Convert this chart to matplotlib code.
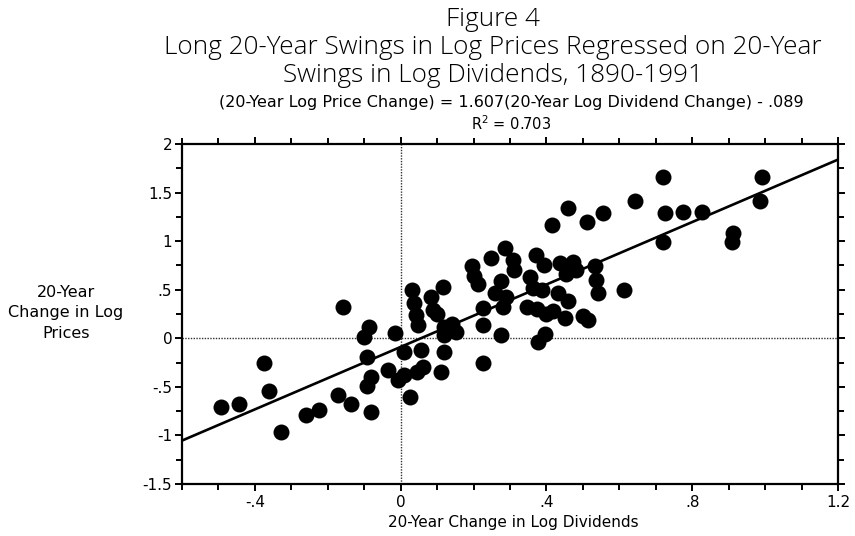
import matplotlib
matplotlib.use("Agg")
import matplotlib.pyplot as plt
import numpy as np

# ---- data ----
div_change = [
    -0.493, -0.444, -0.375, -0.362, -0.329, -0.260, -0.225, -0.173, -0.137, -0.159,
    -0.088, -0.101, -0.093, -0.082, -0.093, -0.082, -0.016, 0.008, -0.036, -0.008,
    0.008, 0.025, 0.055, 0.060, 0.044, 0.118, 0.110, 0.118, 0.225, 0.030,
    0.036, 0.041, 0.047, 0.082, 0.115, 0.088, 0.101, 0.118, 0.142, 0.151,
    0.195, 0.200, 0.211, 0.227, 0.227, 0.274, 0.274, 0.258, 0.290, 0.282,
    0.247, 0.285, 0.307, 0.312, 0.356, 0.364, 0.389, 0.370, 0.392, 0.438,
    0.474, 0.455, 0.482, 0.534, 0.537, 0.542, 0.614, 0.348, 0.375, 0.400,
    0.419, 0.452, 0.499, 0.515, 0.433, 0.460, 0.378, 0.395, 0.416, 0.460,
    0.512, 0.556, 0.644, 0.721, 0.726, 0.775, 0.827, 0.721, 0.912, 0.910,
    0.992, 0.986,
]
price_change = [
    -0.711, -0.680, -0.257, -0.546, -0.968, -0.793, -0.742, -0.587, -0.680, 0.319,
    0.113, 0.010, -0.196, -0.402, -0.494, -0.762, 0.051, -0.144, -0.330, -0.433,
    -0.381, -0.608, -0.124, -0.299, -0.350, -0.144, -0.350, 0.031, -0.257, 0.494,
    0.360, 0.237, 0.134, 0.422, 0.525, 0.288, 0.247, 0.113, 0.144, 0.062,
    0.742, 0.639, 0.556, 0.309, 0.134, 0.031, 0.587, 0.463, 0.422, 0.319,
    0.824, 0.927, 0.803, 0.700, 0.628, 0.515, 0.494, 0.855, 0.752, 0.772,
    0.783, 0.659, 0.700, 0.742, 0.597, 0.463, 0.494, 0.319, 0.299, 0.247,
    0.278, 0.206, 0.227, 0.185, 0.463, 0.381, -0.041, 0.041, 1.164, 1.339,
    1.195, 1.287, 1.411, 1.658, 1.287, 1.298, 1.298, 0.989, 1.081, 0.989,
    1.658, 1.411,
]
slope = 1.607
intercept = -0.089
x_ticks = [-0.4, 0.0, 0.4, 0.8, 1.2]
x_tick_labels = ["-.4", "0", ".4", ".8", "1.2"]
y_ticks = [-1.5, -1.0, -0.5, 0.0, 0.5, 1.0, 1.5, 2.0]
y_tick_labels = ["-1.5", "-1", "-.5", "0", ".5", "1", "1.5", "2"]
x_range = [-0.6, 1.2]
y_range = [-1.5, 2.0]

title_lines = ["Figure 4",
               "Long 20-Year Swings in Log Prices Regressed on 20-Year",
               "Swings in Log Dividends, 1890-1991"]
equation = "(20-Year Log Price Change) = 1.607(20-Year Log Dividend Change) - .089"
r2_text = r"R$^2$ = 0.703"
xlabel = "20-Year Change in Log Dividends"
ylabel = "20-Year\nChange in Log\nPrices"

# ---- figure ----
W, H = 855, 536
fig = plt.figure(figsize=(W / 100, H / 100), dpi=100)
ax = fig.add_axes([182 / W, 1 - 484 / H, (838 - 182) / W, (484 - 144) / H])

ax.set_xlim(*x_range)
ax.set_ylim(*y_range)

# zero reference lines (dotted)
ax.axhline(0, color="#333333", lw=1.0, ls=(0, (1, 1)), zorder=1)
ax.axvline(0, color="#333333", lw=1.0, ls=(0, (1, 1)), zorder=1)

ax.plot(div_change, price_change, "o", color="black", markersize=11.5,
        markeredgewidth=0, zorder=3)

xl = np.array(x_range)
ax.plot(xl, slope * xl + intercept, color="black", lw=1.9, zorder=4,
        solid_capstyle="butt")

for s in ax.spines.values():
    s.set_linewidth(1.6)
    s.set_color("black")

ax.set_xticks(x_ticks)
ax.set_xticklabels(x_tick_labels)
ax.set_yticks(y_ticks)
ax.set_yticklabels(y_tick_labels)
ax.set_xticks(np.arange(-0.6, 1.21, 0.1), minor=True)
ax.set_yticks(np.arange(-1.5, 2.01, 0.25), minor=True)
ax.tick_params(which="both", direction="out", top=True, right=True,
               width=1.4, color="black", labelsize=11, pad=2)
ax.tick_params(which="major", length=5)
ax.tick_params(which="minor", length=4)
ax.tick_params(axis="x", pad=3)

fam = ["DejaVu Sans"]
tfam = ["Open Sans", "DejaVu Sans"]
for lbl in ax.get_xticklabels() + ax.get_yticklabels():
    lbl.set_family(fam)

# titles
for txt, yy in zip(title_lines, [19, 47, 75]):
    fig.text(493 / W, 1 - yy / H, txt, ha="center", va="center",
             fontsize=18.8, family=tfam, fontweight="light")
fig.text(511 / W, 1 - 103 / H, equation, ha="center", va="center",
         fontsize=11.5, family=fam)
fig.text(511 / W, 1 - 124 / H, r2_text, ha="center", va="center",
         fontsize=10.5, family=fam)

fig.text(513 / W, 1 - 522 / H, xlabel, ha="center", va="center",
         fontsize=11, family=fam)
fig.text(66 / W, 1 - 313 / H, ylabel, ha="center", va="center",
         fontsize=11.5, family=fam, linespacing=1.45)

fig.savefig("out.png", dpi=100)
